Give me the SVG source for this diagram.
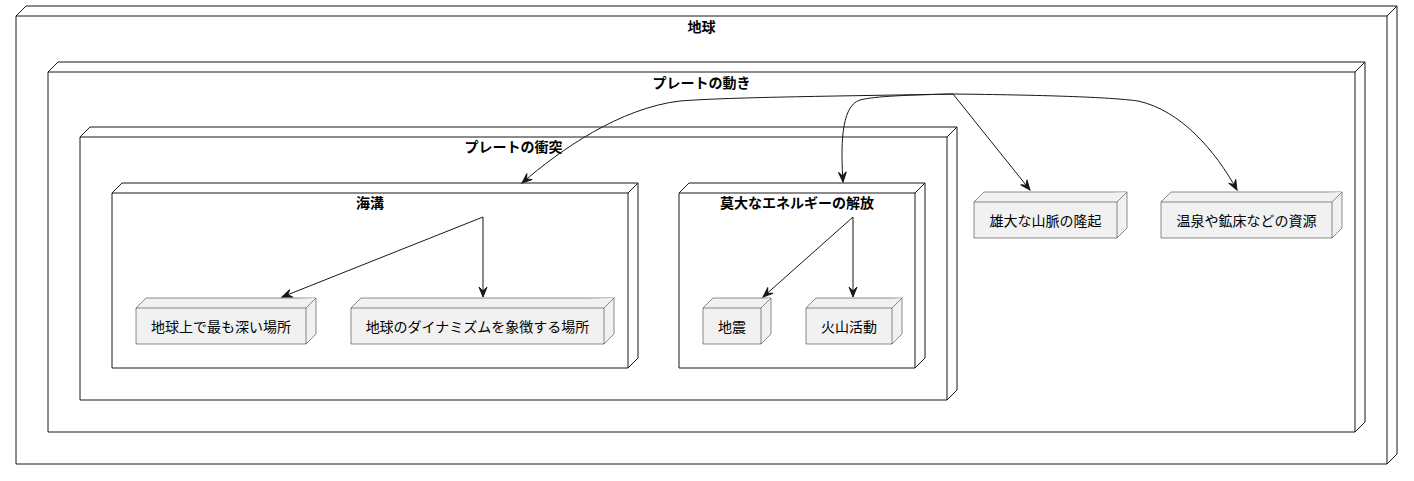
<svg xmlns="http://www.w3.org/2000/svg" width="1414" height="481" viewBox="0 0 1414 481">
<style>
.c{fill:#FFFFFF;stroke:#181818;stroke-width:1}
.n{fill:#F1F1F1;stroke:#181818;stroke-width:0.5}
.t{font-family:"Liberation Sans","Noto Sans CJK JP",sans-serif;font-size:14px;fill:#000000;text-anchor:middle}
.b{font-weight:bold}
.e{fill:none;stroke:#181818;stroke-width:1}
</style>
<defs>
<marker id="a" viewBox="-11 -5 12 10" refX="0" refY="0" markerWidth="12" markerHeight="10" markerUnits="userSpaceOnUse" orient="auto">
<path d="M0,0 L-10,-4 L-6,0 L-10,4 Z" fill="#181818" stroke="#181818" stroke-width="1"/>
</marker>
</defs>
<rect width="1414" height="481" fill="#FFFFFF"/>
<g id="earth">
<path class="c" d="M16,16 L26,6 L1397,6 L1397,454 L1387,464 L16,464 Z"/>
<path class="e" d="M16,16 L1387,16 L1397,6 M1387,16 L1387,464"/>
<text class="t b" x="701.5" y="32">地球</text>
</g>
<g id="plate-movement">
<path class="c" d="M48,72 L58,62 L1365,62 L1365,422 L1355,432 L48,432 Z"/>
<path class="e" d="M48,72 L1355,72 L1365,62 M1355,72 L1355,432"/>
<text class="t b" x="701.5" y="88">プレートの動き</text>
</g>
<g id="plate-collision">
<path class="c" d="M80,137 L90,127 L957,127 L957,390 L947,400 L80,400 Z"/>
<path class="e" d="M80,137 L947,137 L957,127 M947,137 L947,400"/>
<text class="t b" x="513.5" y="152">プレートの衝突</text>
</g>
<g id="trench">
<path class="c" d="M112,193 L122,183 L638,183 L638,358 L628,368 L112,368 Z"/>
<path class="e" d="M112,193 L628,193 L638,183 M628,193 L628,368"/>
<text class="t b" x="370" y="208">海溝</text>
</g>
<g id="energy">
<path class="c" d="M679,193 L689,183 L925,183 L925,358 L915,368 L679,368 Z"/>
<path class="e" d="M679,193 L915,193 L925,183 M915,193 L915,368"/>
<text class="t b" x="797" y="208">莫大なエネルギーの解放</text>
</g>
<g id="deepest">
<path class="n" d="M136,308 L146,298 L316,298 L316,334 L306,344 L136,344 Z"/>
<path class="n" d="M136,308 L306,308 L316,298 M306,308 L306,344" fill="none"/>
<text class="t" x="221" y="332">地球上で最も深い場所</text>
</g>
<g id="dynamism">
<path class="n" d="M351,308 L361,298 L614,298 L614,334 L604,344 L351,344 Z"/>
<path class="n" d="M351,308 L604,308 L614,298 M604,308 L604,344" fill="none"/>
<text class="t" x="477.5" y="332">地球のダイナミズムを象徴する場所</text>
</g>
<g id="earthquake">
<path class="n" d="M703,308 L713,298 L771,298 L771,334 L761,344 L703,344 Z"/>
<path class="n" d="M703,308 L761,308 L771,298 M761,308 L761,344" fill="none"/>
<text class="t" x="732" y="332">地震</text>
</g>
<g id="volcano">
<path class="n" d="M806,308 L816,298 L902,298 L902,334 L892,344 L806,344 Z"/>
<path class="n" d="M806,308 L892,308 L902,298 M892,308 L892,344" fill="none"/>
<text class="t" x="849" y="332">火山活動</text>
</g>
<g id="mountains">
<path class="n" d="M974,202 L984,192 L1127,192 L1127,228 L1117,238 L974,238 Z"/>
<path class="n" d="M974,202 L1117,202 L1127,192 M1117,202 L1117,238" fill="none"/>
<text class="t" x="1045.5" y="226">雄大な山脈の隆起</text>
</g>
<g id="resources">
<path class="n" d="M1161,202 L1171,192 L1342,192 L1342,228 L1332,238 L1161,238 Z"/>
<path class="n" d="M1161,202 L1332,202 L1342,192 M1332,202 L1332,238" fill="none"/>
<text class="t" x="1246.5" y="226">温泉や鉱床などの資源</text>
</g>
<g id="connectors">
<path class="e" marker-end="url(#a)" d="M483,217 L282,297"/>
<path class="e" marker-end="url(#a)" d="M483,217 L483,297"/>
<path class="e" marker-end="url(#a)" d="M853,217 L763,297"/>
<path class="e" marker-end="url(#a)" d="M853,217 L853,297"/>
<path class="e" marker-end="url(#a)" d="M953,94 L1030,190"/>
<path class="e" marker-end="url(#a)" d="M953,94 C1040,95 1110,97 1138,101 C1180,110 1215,150 1237,190"/>
<path class="e" marker-end="url(#a)" d="M953,94 C910,95 875,96 860,100 C840,106 841,150 843,182"/>
<path class="e" marker-end="url(#a)" d="M953,94 C850,96 730,97 680,101 C620,108 560,150 522,183"/>
</g>
</svg>
